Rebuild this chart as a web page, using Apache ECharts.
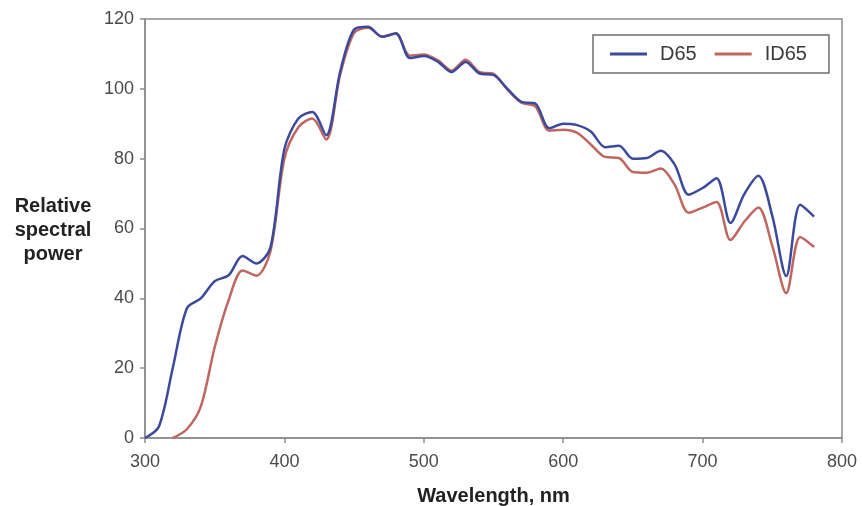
<!DOCTYPE html>
<html>
<head>
<meta charset="utf-8">
<script src="https://cdn.jsdelivr.net/npm/echarts@6/dist/echarts.min.js"></script>
<style>
  html, body { margin: 0; padding: 0; background: #fff; }
  #chart { width: 862px; height: 506px; }
</style>
</head>
<body>
<div id="chart"></div>
<script>
  // wavelengths, nm
  var wavelengths = [300, 310, 320, 330, 340, 350, 360, 370, 380, 390,
    400, 410, 420, 430, 440, 450, 460, 470, 480, 490,
    500, 510, 520, 530, 540, 550, 560, 570, 580, 590,
    600, 610, 620, 630, 640, 650, 660, 670, 680, 690,
    700, 710, 720, 730, 740, 750, 760, 770, 780];

  var d65 = [0.0, 3.3, 20.2, 37.1, 40.0, 44.9, 46.6, 52.1, 50.0, 54.6,
    82.8, 91.5, 93.4, 86.7, 104.9, 117.0, 117.8, 114.9, 115.9, 108.8,
    109.4, 107.8, 104.8, 107.7, 104.4, 104.0, 100.0, 96.3, 95.8, 88.7,
    90.0, 89.6, 87.7, 83.3, 83.7, 80.0, 80.2, 82.3, 78.3, 69.7,
    71.6, 74.4, 61.6, 69.9, 75.1, 63.6, 46.4, 66.8, 63.4];

  var id65 = [null, null, 0.0, 2.5, 9.0, 26.0, 39.5, 48.0, 46.5, 53.5,
    80.0, 89.0, 91.5, 85.5, 104.0, 116.0, 117.5, 115.0, 115.8, 109.5,
    109.8, 108.2, 105.2, 108.3, 104.8, 104.3, 99.8, 96.0, 95.0, 88.0,
    88.3, 87.4, 84.0, 80.5, 80.2, 76.2, 76.0, 77.2, 72.5, 64.5,
    66.0, 67.6, 56.7, 62.0, 66.0, 55.0, 41.5, 57.6, 54.7];

  var seriesNames = ['D65', 'ID65'];
  var seriesColors = ['#3b4a9c', '#c0665e'];

  function pairs(vals) {
    return wavelengths.map(function (w, i) {
      return [w, vals[i]];
    });
  }

  var chart = echarts.init(document.getElementById('chart'));
  var font = 'Liberation Sans, Arial, sans-serif';

  chart.setOption({
    animation: false,
    textStyle: { fontFamily: font },
    grid: {
      left: 145,
      right: 20,
      top: 19,
      bottom: 68,
      outerBoundsMode: 'none',
      containLabel: false,
      show: true,
      borderColor: '#8c8c8c',
      borderWidth: 1.5,
      backgroundColor: 'transparent',
    },
    legend: {
      data: seriesNames,
      left: 593,
      top: 35,
      orient: 'horizontal',
      icon: 'rect',
      borderColor: '#6e6e6e',
      borderWidth: 1.5,
      borderRadius: 0,
      padding: [9, 22, 9, 17],
      itemWidth: 37,
      itemHeight: 3,
      itemGap: 18,
      textStyle: { fontSize: 20, color: '#3a3a3a', fontFamily: font, padding: [0, 0, 0, 8] },
    },
    xAxis: {
      type: 'value',
      min: 300,
      max: 800,
      interval: 100,
      name: 'Wavelength, nm',
      nameLocation: 'middle',
      nameGap: 48,
      nameTextStyle: { fontSize: 20, fontWeight: 'bold', color: '#222' },
      axisLine: { lineStyle: { color: '#8c8c8c', width: 1.5 } },
      axisTick: { show: true, length: 5, lineStyle: { color: '#8c8c8c', width: 1.5 } },
      axisLabel: { fontSize: 18, color: '#4a4a4a', margin: 15 },
      splitLine: { show: false },
    },
    yAxis: {
      type: 'value',
      min: 0,
      max: 120,
      interval: 20,
      axisLine: { show: true, lineStyle: { color: '#8c8c8c', width: 1.5 } },
      axisTick: { show: true, length: 5, lineStyle: { color: '#8c8c8c', width: 1.5 } },
      axisLabel: { fontSize: 18, color: '#4a4a4a', margin: 11 },
      splitLine: { show: false },
    },
    graphic: [
      {
        type: 'text',
        x: 53,
        y: 194,
        style: {
          text: 'Relative\nspectral\npower',
          font: 'bold 20px ' + font,
          fill: '#222',
          align: 'center',
          lineHeight: 24,
        },
      },
    ],
    series: seriesNames.map(function (name, i) {
      return {
        name: name,
        type: 'line',
        data: pairs(i === 0 ? d65 : id65),
        smooth: 0.3,
        symbol: 'none',
        connectNulls: false,
        z: i === 0 ? 3 : 2,
        itemStyle: { color: seriesColors[i] },
        lineStyle: { color: seriesColors[i], width: 2.5 },
      };
    }),
  });
</script>
</body>
</html>
